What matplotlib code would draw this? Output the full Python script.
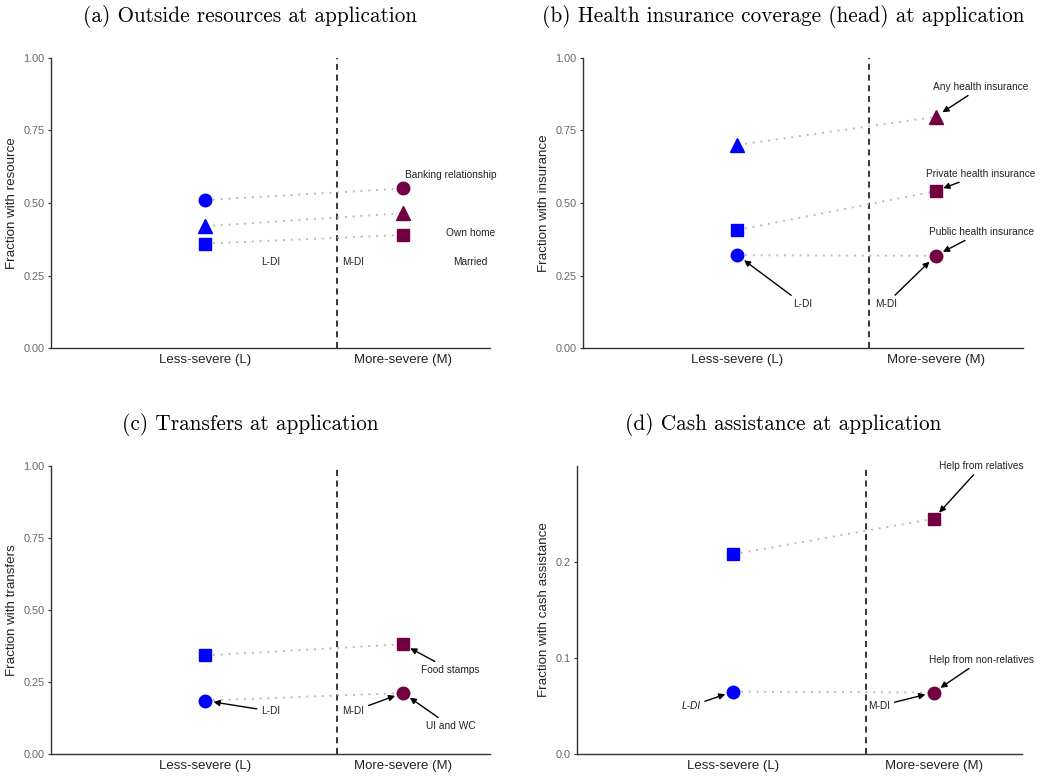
import matplotlib
matplotlib.use('Agg')
import matplotlib.pyplot as plt

plt.rcParams['font.family'] = ['Liberation Sans', 'DejaVu Sans']

categories = ['Less-severe (L)', 'More-severe (M)']

# (a) outside resources
a_bank = [0.51, 0.55]
a_married = [0.42, 0.465]
a_home = [0.36, 0.39]

# (b) health insurance (head)
b_any = [0.70, 0.797]
b_private = [0.407, 0.541]
b_public = [0.32, 0.318]

# (c) transfers
c_food = [0.342, 0.381]
c_ui = [0.185, 0.212]

# (d) cash assistance
d_relatives = [0.208, 0.245]
d_nonrel = [0.065, 0.064]

blue = '#0000FF'
maroon = '#730040'
x = [1, 2]


def base(ax, title, title_x, title_y, ylabel, yticks, yticklabels, ylim):
    ax.set_xlim(0.22, 2.44)
    ax.set_ylim(*ylim)
    ax.axvline(1.665, color='black', lw=1.1, ls=(0, (4, 3)), zorder=1)
    ax.set_xticks(x)
    ax.set_xticklabels(categories, fontsize=9.5, color='#222222')
    ax.set_yticks(yticks)
    ax.set_yticklabels(yticklabels, fontsize=7.8, color='#666666')
    ax.tick_params(axis='x', length=0, pad=4)
    ax.tick_params(axis='y', length=2.5, width=0.8, color='#333333', pad=2)
    for s in ['top', 'right']:
        ax.spines[s].set_visible(False)
    for s in ['left', 'bottom']:
        ax.spines[s].set_color('#333333')
        ax.spines[s].set_linewidth(1.0)
    ax.set_ylabel(ylabel, fontsize=9.6, color='#222222', labelpad=4)
    fig.text(title_x, title_y, title, family='cmr10', fontsize=15.3,
             ha='center', va='center')


def pair(ax, vals, marker, ms):
    ax.plot(x, vals, ls=(0, (1, 3)), color='#BBBBBB', lw=1.4, zorder=2)
    ax.plot(x[0], vals[0], marker=marker, ms=ms, color=blue, mec=blue, ls='none', zorder=3)
    ax.plot(x[1], vals[1], marker=marker, ms=ms, color=maroon, mec=maroon, ls='none', zorder=3)


def note(ax, text, xy, xytext, **kw):
    ax.annotate(text, xy=xy, xytext=xytext, fontsize=7.3, color='#222222',
                ha='center', va='center',
                arrowprops=dict(arrowstyle='-|>', color='black', lw=1.0,
                                mutation_scale=9, shrinkA=1, shrinkB=6), **kw)


fig = plt.figure(figsize=(10.5, 7.76), dpi=100)
ax_a = fig.add_axes([0.0486, 0.5515, 0.418, 0.3738])
ax_b = fig.add_axes([0.555, 0.5515, 0.419, 0.3738])
ax_c = fig.add_axes([0.0486, 0.0284, 0.418, 0.3711])
ax_d = fig.add_axes([0.5495, 0.0284, 0.4235, 0.3711])

q_ticks = [0, 0.25, 0.5, 0.75, 1.0]
q_labels = ['0.00', '0.25', '0.50', '0.75', '1.00']
txt = dict(fontsize=7.3, color='#222222', ha='center', va='center')

# (a)
base(ax_a, '(a) Outside resources at application', 0.238, 0.979,
     'Fraction with resource', q_ticks, q_labels, (0, 1))
pair(ax_a, a_bank, 'o', 9)
pair(ax_a, a_married, '^', 10)
pair(ax_a, a_home, 's', 8)
ax_a.text(2.24, 0.597, 'Banking relationship', **txt)
ax_a.text(2.34, 0.397, 'Own home', **txt)
ax_a.text(2.34, 0.297, 'Married', **txt)
ax_a.text(1.33, 0.297, 'L-DI', **txt)
ax_a.text(1.75, 0.297, 'M-DI', **txt)

# (b)
base(ax_b, '(b) Health insurance coverage (head) at application', 0.746, 0.979,
     'Fraction with insurance', q_ticks, q_labels, (0, 1))
pair(ax_b, b_any, '^', 10)
pair(ax_b, b_private, 's', 8)
pair(ax_b, b_public, 'o', 9)
note(ax_b, 'Any health insurance', (x[1], b_any[1]), (2.23, 0.90))
note(ax_b, 'Private health insurance', (x[1], b_private[1]), (2.23, 0.60))
note(ax_b, 'Public health insurance', (x[1], b_public[1]), (2.23, 0.40))
note(ax_b, 'L-DI', (x[0], b_public[0]), (1.33, 0.152))
note(ax_b, 'M-DI', (x[1], b_public[1]), (1.75, 0.152))

# (c)
base(ax_c, '(c) Transfers at application', 0.238, 0.453,
     'Fraction with transfers', q_ticks, q_labels, (0, 1))
pair(ax_c, c_food, 's', 8)
pair(ax_c, c_ui, 'o', 9)
note(ax_c, 'Food stamps', (x[1], c_food[1]), (2.24, 0.292))
note(ax_c, 'UI and WC', (x[1], c_ui[1]), (2.24, 0.097))
note(ax_c, 'L-DI', (x[0], c_ui[0]), (1.33, 0.149))
note(ax_c, 'M-DI', (x[1], c_ui[1]), (1.75, 0.149))

# (d)
base(ax_d, '(d) Cash assistance at application', 0.746, 0.453,
     'Fraction with cash assistance', [0, 0.1, 0.2], ['0.0', '0.1', '0.2'], (0, 0.30))
pair(ax_d, d_relatives, 's', 8)
pair(ax_d, d_nonrel, 'o', 9)
note(ax_d, 'Help from relatives', (x[1], d_relatives[1]), (2.24, 0.30))
note(ax_d, 'Help from non-relatives', (x[1], d_nonrel[1]), (2.24, 0.098))
note(ax_d, 'L-DI', (x[0], d_nonrel[0]), (0.79, 0.05), style='italic')
note(ax_d, 'M-DI', (x[1], d_nonrel[1]), (1.73, 0.05))

fig.savefig('out.png', dpi=100)
